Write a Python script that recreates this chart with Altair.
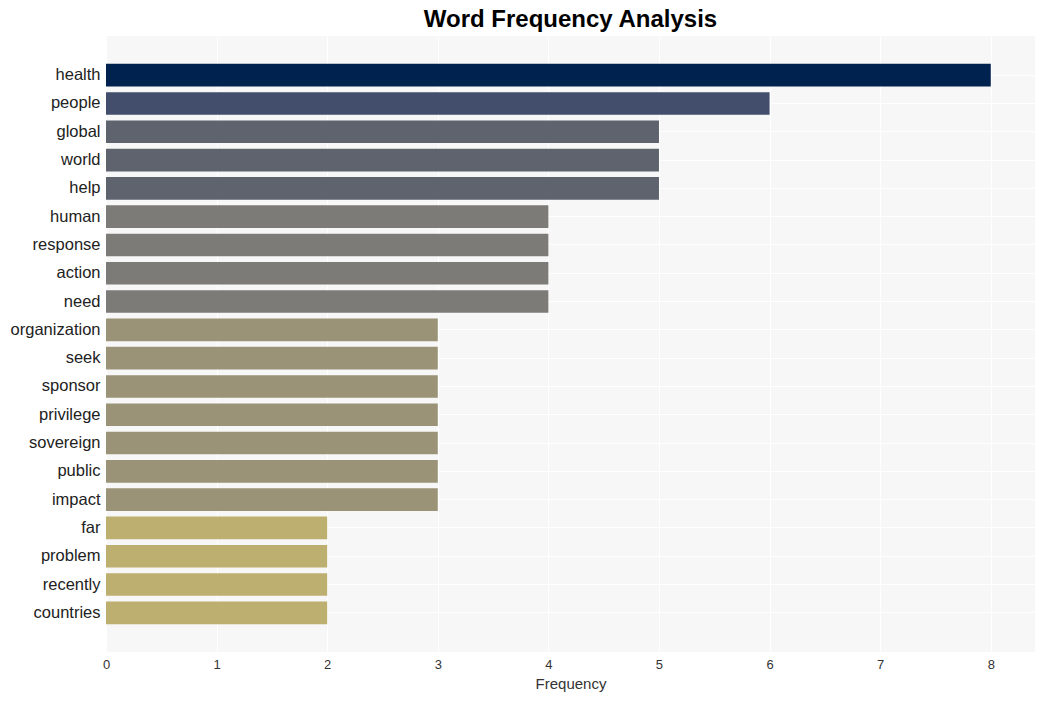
import altair as alt
import pandas as pd

words = ["health", "people", "global", "world", "help", "human", "response", "action",
         "need", "organization", "seek", "sponsor", "privilege", "sovereign", "public",
         "impact", "far", "problem", "recently", "countries"]
freqs = [8, 6, 5, 5, 5, 4, 4, 4, 4, 3, 3, 3, 3, 3, 3, 3, 2, 2, 2, 2]

color_domain = [2, 3, 4, 5, 6, 8]
color_range = ["#bcaf6f", "#9b9377", "#7c7b78", "#5f636e", "#434e6c", "#00224e"]

df = pd.DataFrame({"word": words, "freq": freqs})

chart = alt.Chart(df).mark_bar().encode(
    x=alt.X("freq:Q", title="Frequency",
            scale=alt.Scale(domain=[0, 8.4], nice=False),
            axis=alt.Axis(values=list(range(0, 9)), grid=True, gridColor="white",
                          gridWidth=1, domain=False, ticks=False, labelPadding=6,
                          labelFlush=False,
                          labelFontSize=13, labelColor="#333333", titleFontSize=15,
                          titleFontWeight="normal", titleColor="#333333", titlePadding=5,
                          labelFont="Liberation Sans", titleFont="Liberation Sans")),
    y=alt.Y("word:N", title=None, sort=words,
            scale=alt.Scale(paddingInner=0.2, paddingOuter=0.985),
            axis=alt.Axis(grid=True, gridColor="white", bandPosition=0.5, domain=False,
                          ticks=False, labelPadding=6, labelFontSize=16.5,
                          labelColor="#222222", labelFont="Liberation Sans")),
    color=alt.Color("freq:O", scale=alt.Scale(domain=color_domain, range=color_range),
                    legend=None),
).properties(
    width=929, height=616,
    title=alt.TitleParams("Word Frequency Analysis", fontSize=24, fontWeight="bold",
                          font="Liberation Sans", color="black", anchor="middle", offset=4),
    autosize=alt.AutoSizeParams(type="none"),
    padding={"left": 98, "top": 28, "right": 2, "bottom": 41},
).configure_view(fill="#f7f7f7", stroke=None)

chart.save("out.html", embed_options={"renderer": "svg", "actions": False})
